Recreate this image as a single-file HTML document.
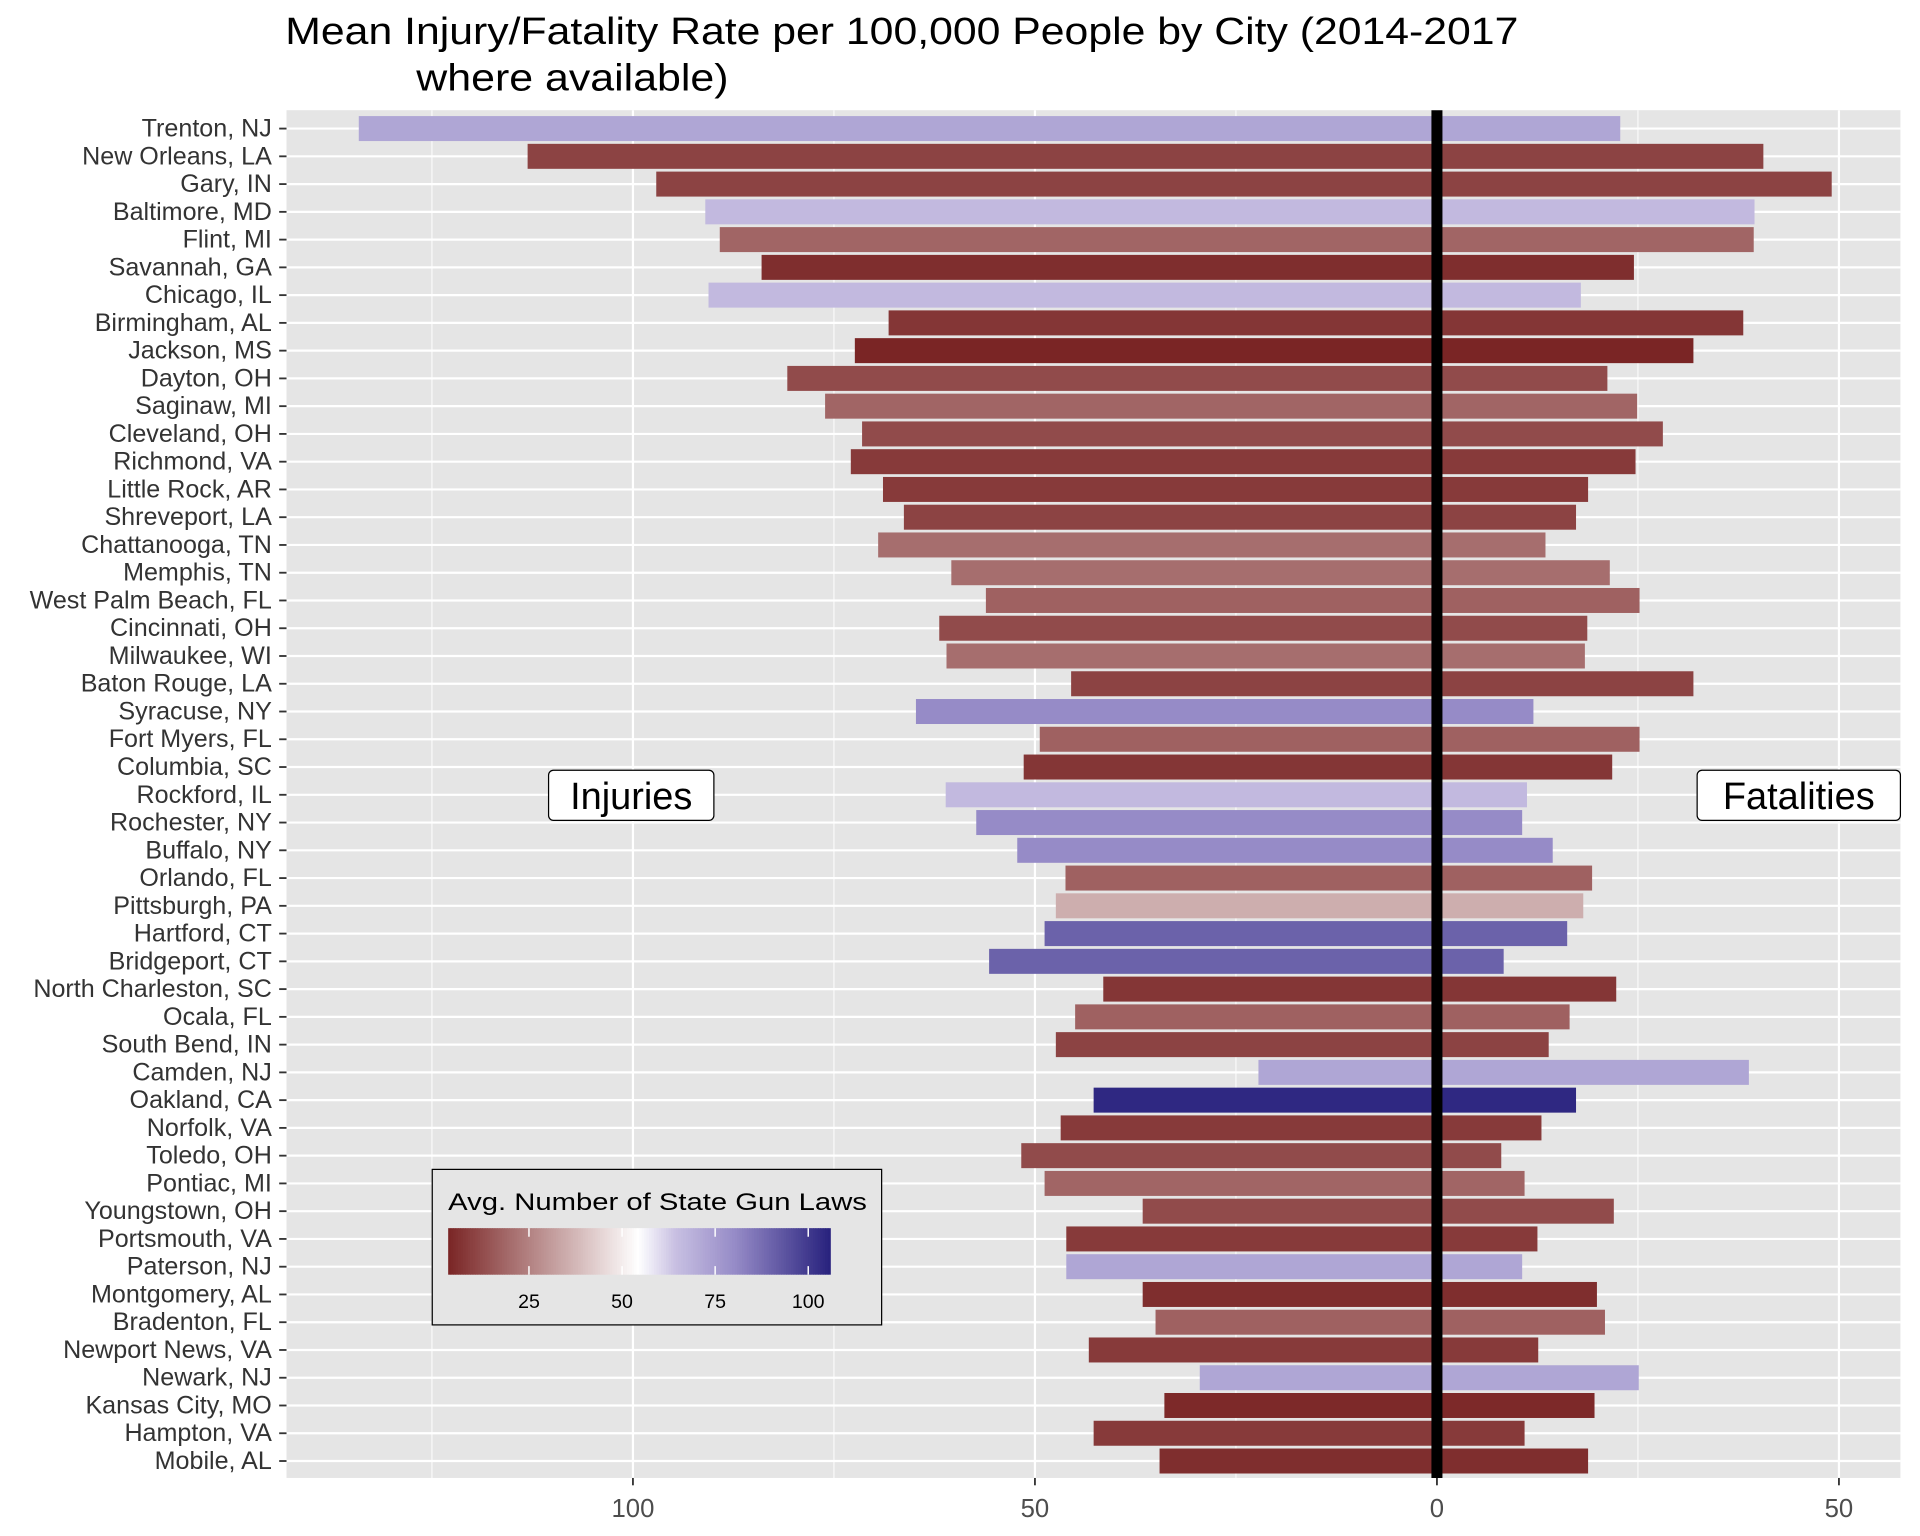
<!DOCTYPE html>
<html><head><meta charset="utf-8"><style>
html,body{margin:0;padding:0;background:#fff;}
svg{display:block;font-family:"Liberation Sans",Arial,sans-serif;}
</style></head><body>
<svg id="chart" width="1920" height="1536" viewBox="0 0 1568 1254.4" xmlns="http://www.w3.org/2000/svg">
<rect x="0" y="0" width="1568" height="1254.4" fill="#fff"/>
<text x="233" y="36" font-size="31" fill="#000" textLength="1007" lengthAdjust="spacingAndGlyphs">Mean Injury/Fatality Rate per 100,000 People by City (2014-2017</text>
<text x="340" y="74" font-size="31" fill="#000" textLength="255" lengthAdjust="spacingAndGlyphs">where available)</text>
<rect x="234" y="90" width="1318" height="1117" fill="#e5e5e5"/>
<g id="grid"></g><g id="bars"></g><g id="axes"></g>
</svg>
<script>
const cities=["Trenton, NJ","New Orleans, LA","Gary, IN","Baltimore, MD","Flint, MI","Savannah, GA","Chicago, IL","Birmingham, AL","Jackson, MS","Dayton, OH","Saginaw, MI","Cleveland, OH","Richmond, VA","Little Rock, AR","Shreveport, LA","Chattanooga, TN","Memphis, TN","West Palm Beach, FL","Cincinnati, OH","Milwaukee, WI","Baton Rouge, LA","Syracuse, NY","Fort Myers, FL","Columbia, SC","Rockford, IL","Rochester, NY","Buffalo, NY","Orlando, FL","Pittsburgh, PA","Hartford, CT","Bridgeport, CT","North Charleston, SC","Ocala, FL","South Bend, IN","Camden, NJ","Oakland, CA","Norfolk, VA","Toledo, OH","Pontiac, MI","Youngstown, OH","Portsmouth, VA","Paterson, NJ","Montgomery, AL","Bradenton, FL","Newport News, VA","Newark, NJ","Kansas City, MO","Hampton, VA","Mobile, AL"];
const injuries=[134.1,113.1,97.1,91.0,89.2,84.0,90.6,68.2,72.4,80.8,76.1,71.5,72.9,68.9,66.3,69.5,60.4,56.1,61.9,61.0,45.5,64.8,49.4,51.4,61.1,57.3,52.2,46.2,47.4,48.8,55.7,41.5,45.0,47.4,22.2,42.7,46.8,51.7,48.8,36.6,46.1,46.1,36.6,35.0,43.3,29.5,33.9,42.7,34.5];
const fatalities=[22.8,40.6,49.1,39.5,39.4,24.5,17.9,38.1,31.9,21.2,24.9,28.1,24.7,18.8,17.3,13.5,21.5,25.2,18.7,18.4,31.9,12.0,25.2,21.8,11.2,10.6,14.4,19.3,18.2,16.2,8.3,22.3,16.5,13.9,38.8,17.3,13.0,8.0,10.9,22.0,12.5,10.6,19.9,20.9,12.6,25.1,19.6,10.9,18.8];
const gunLaws=[72,10,10,66,18,5,66,7,3,12,18,12,8,8,10,20,20,17,12,20,10,80,17,7,66,80,80,17,35,90,90,7,17,10,72,104,8,12,18,12,8,72,5,17,8,72,4,8,5];
const xTicks=[-100,-50,0,50];
const xTickLabels=["100","50","0","50"];
const xMinor=[-125,-75,-25,25];
const legendTicks=[25,50,75,100];

const NS="http://www.w3.org/2000/svg";
const X0=1173.5, PX=6.566;
const xs=v=>X0+v*PX;
const Y0=105, DY=22.67;
const ys=i=>Y0+i*DY;
const LOW=3, MID=54, HIGH=106;
function col(v){
  const stops=[[LOW,[122,37,37]],[MID,[255,255,255]],[64,[200,192,226]],[80,[150,139,199]],[HIGH,[38,32,124]]];
  for(let k=0;k<stops.length-1;k++){
    const [v0,a]=stops[k],[v1,b]=stops[k+1];
    if(v<=v1||k===stops.length-2){
      let t=(v-v0)/(v1-v0);t=Math.max(0,Math.min(1,t));
      return "rgb("+a.map((c,j)=>Math.round(c+(b[j]-c)*t)).join(",")+")";
    }
  }
}
function mk(tag,attrs,parent,text){const e=document.createElementNS(NS,tag);for(const k in attrs)e.setAttribute(k,attrs[k]);if(text!==undefined)e.textContent=text;parent.appendChild(e);return e;}
const grid=document.getElementById('grid'),bars=document.getElementById('bars'),axes=document.getElementById('axes');
xMinor.forEach(v=>{const l=mk('line',{x1:xs(v),x2:xs(v),y1:90,y2:1207,stroke:'#fff','stroke-width':0.8},grid);

});
xTicks.forEach(v=>{const l=mk('line',{x1:xs(v),x2:xs(v),y1:90,y2:1207,stroke:'#fff','stroke-width':1.8},grid);

});
cities.forEach((c,i)=>{const l=mk('line',{x1:234,x2:1552,y1:ys(i),y2:ys(i),stroke:'#fff','stroke-width':1.8},grid);

});
const bh=DY*0.9;
cities.forEach((c,i)=>{
  const f=col(gunLaws[i]);
  const r1=mk('rect',{x:xs(-injuries[i]),y:ys(i)-bh/2,width:injuries[i]*PX,height:bh,fill:f},bars);
  
  
  const r2=mk('rect',{x:X0,y:ys(i)-bh/2,width:fatalities[i]*PX,height:bh,fill:f},bars);
  
  
  const t=mk('text',{x:222,y:ys(i)+6.5,'font-size':20.5,fill:'#333','text-anchor':'end'},axes,c);
  
  
  const tk=mk('line',{x1:228,x2:234,y1:ys(i),y2:ys(i),stroke:'#333','stroke-width':1.5},axes);
  
  
});
const zl=mk('line',{x1:X0,x2:X0,y1:90,y2:1207,stroke:'#000','stroke-width':9},axes);


xTicks.forEach((v,k)=>{
  const tk=mk('line',{x1:xs(v),x2:xs(v),y1:1207,y2:1213,stroke:'#333','stroke-width':1.5},axes);
  
  
  const t=mk('text',{x:xs(v),y:1239,'font-size':21,fill:'#4d4d4d','text-anchor':'middle'},axes,xTickLabels[k]);
  
  
});
function label(x,y,w,h,txt,name){
  const g=mk('g',{},axes);
  
  
  mk('rect',{x:x,y:y,width:w,height:h,rx:4,fill:'#fff',stroke:'#000','stroke-width':1},g);
  mk('text',{x:x+w/2,y:y+h/2+11,'font-size':31,fill:'#000','text-anchor':'middle'},g,txt);
}
label(448,629,135,41,"Injuries","injuries-label");
label(1386,629,166,41,"Fatalities","fatalities-label");
const lg=mk('g',{},axes);


mk('rect',{x:353,y:955,width:367,height:127,fill:'#e5e5e5',stroke:'#000','stroke-width':1},lg);
const lt=mk('text',{x:366,y:988,'font-size':20,fill:'#000',textLength:342,lengthAdjust:'spacingAndGlyphs'},lg,"Avg. Number of State Gun Laws");


const LX0=366,LX1=678,LV0=3.3,LV1=105.9;
const lx=v=>LX0+(v-LV0)/(LV1-LV0)*(LX1-LX0);
for(let p=LX0;p<LX1;p+=2){
  const v=LV0+(p-LX0)/(LX1-LX0)*(LV1-LV0);
  mk('rect',{x:p,y:1003,width:2.5,height:38,fill:col(v)},lg);
}
legendTicks.forEach(v=>{
  mk('line',{x1:lx(v),x2:lx(v),y1:1003,y2:1010,stroke:'#fff','stroke-width':1.2},lg);
  mk('line',{x1:lx(v),x2:lx(v),y1:1034,y2:1041,stroke:'#fff','stroke-width':1.2},lg);
  const t=mk('text',{x:lx(v),y:1068,'font-size':16,fill:'#000','text-anchor':'middle'},lg,String(v));
  
  
});
</script>
</body></html>
